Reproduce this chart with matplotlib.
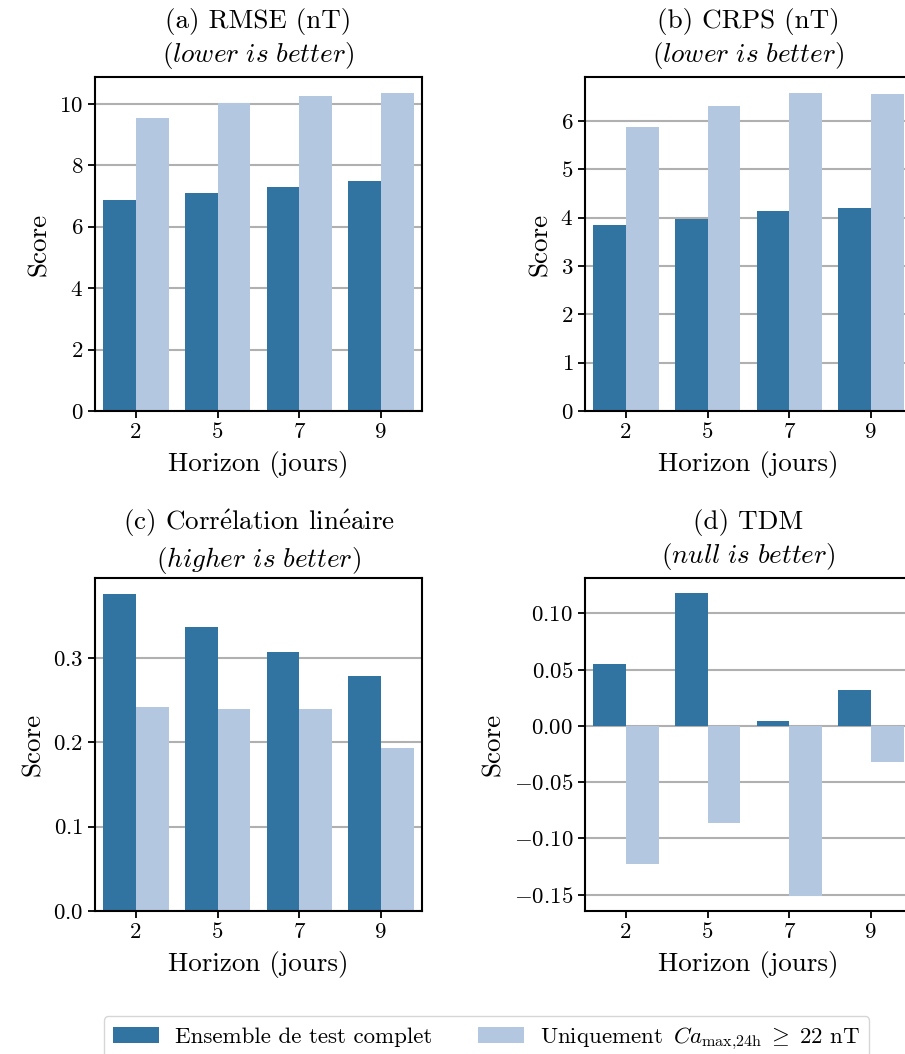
import matplotlib
matplotlib.use("Agg")
import matplotlib.pyplot as plt
from matplotlib.ticker import MultipleLocator
import numpy as np

# data
horizons = ["2", "5", "7", "9"]
rmse_full = [6.87, 7.10, 7.30, 7.49]
rmse_storm = [9.54, 10.03, 10.26, 10.36]
crps_full = [3.85, 3.97, 4.14, 4.20]
crps_storm = [5.88, 6.31, 6.58, 6.56]
corr_full = [0.376, 0.337, 0.307, 0.279]
corr_storm = [0.242, 0.240, 0.240, 0.193]
tdm_full = [0.055, 0.118, 0.004, 0.032]
tdm_storm = [-0.123, -0.086, -0.151, -0.032]

label_full = "Ensemble de test complet"
label_storm = r"Uniquement $\,Ca_{\mathrm{max{,}24h}}\;\geq\;22$ nT"
c_full = "#3274a1"
c_storm = "#b4c7e1"

plt.rcParams["font.family"] = "cmr10"
plt.rcParams["mathtext.fontset"] = "cm"
plt.rcParams["axes.formatter.use_mathtext"] = True
plt.rcParams["axes.unicode_minus"] = True

panels = [
    (r"(a) RMSE (nT)" + "\n" + r"($\mathit{lower\ is\ better}$)", rmse_full, rmse_storm, 2, 10.5),
    (r"(b) CRPS (nT)" + "\n" + r"($\mathit{lower\ is\ better}$)", crps_full, crps_storm, 1, 10.5),
    (r"(c) Corr$\acute{\mathrm{e}}$lation lin$\acute{\mathrm{e}}$aire" + "\n" + r"($\mathit{higher\ is\ better}$)", corr_full, corr_storm, 0.1, 8),
    (r"(d) TDM" + "\n" + r"($\mathit{null\ is\ better}$)", tdm_full, tdm_storm, 0.05, 10.5),
]

rects = [
    [0.1050, 0.6101, 0.3613, 0.3169],
    [0.6464, 0.6101, 0.3613, 0.3169],
    [0.1050, 0.1357, 0.3613, 0.3159],
    [0.6464, 0.1357, 0.3613, 0.3159],
]

fig = plt.figure(figsize=(9.05, 10.54), dpi=100)
x = np.arange(len(horizons))

for i, ((title, full, storm, step, pad), rect) in enumerate(zip(panels, rects)):
    ax = fig.add_axes(rect)
    ax.set_axisbelow(True)
    ax.bar(x - 0.2, full, width=0.4, color=c_full, label=label_full)
    ax.bar(x + 0.2, storm, width=0.4, color=c_storm, label=label_storm)
    ax.set_xlim(-0.5, 3.5)
    ax.set_xticks(x)
    ax.set_xticklabels(horizons)
    ax.yaxis.set_major_locator(MultipleLocator(step))
    ax.grid(axis="y", color="#b0b0b0", linewidth=1.5)
    for s in ax.spines.values():
        s.set_linewidth(1.5)
    if i % 2 == 1:
        # right panels run past the edge of the image
        ax.spines["right"].set_visible(False)
    ax.tick_params(labelsize=16.5, length=5, width=1.3)
    ax.set_xlabel("Horizon (jours)", fontsize=19.5, labelpad=6)
    ax.set_ylabel("Score", fontsize=19.5, labelpad=6)
    ax.set_title(title, fontsize=19.5, pad=pad, linespacing=1.25)

handles, labels = ax.get_legend_handles_labels()
fig.legend(handles, labels, loc="lower center", ncol=2, fontsize=16.5,
           bbox_to_anchor=(0.5376, -0.007), borderaxespad=0, frameon=True,
           handletextpad=0.7)

fig.savefig("out.png", dpi=100)
